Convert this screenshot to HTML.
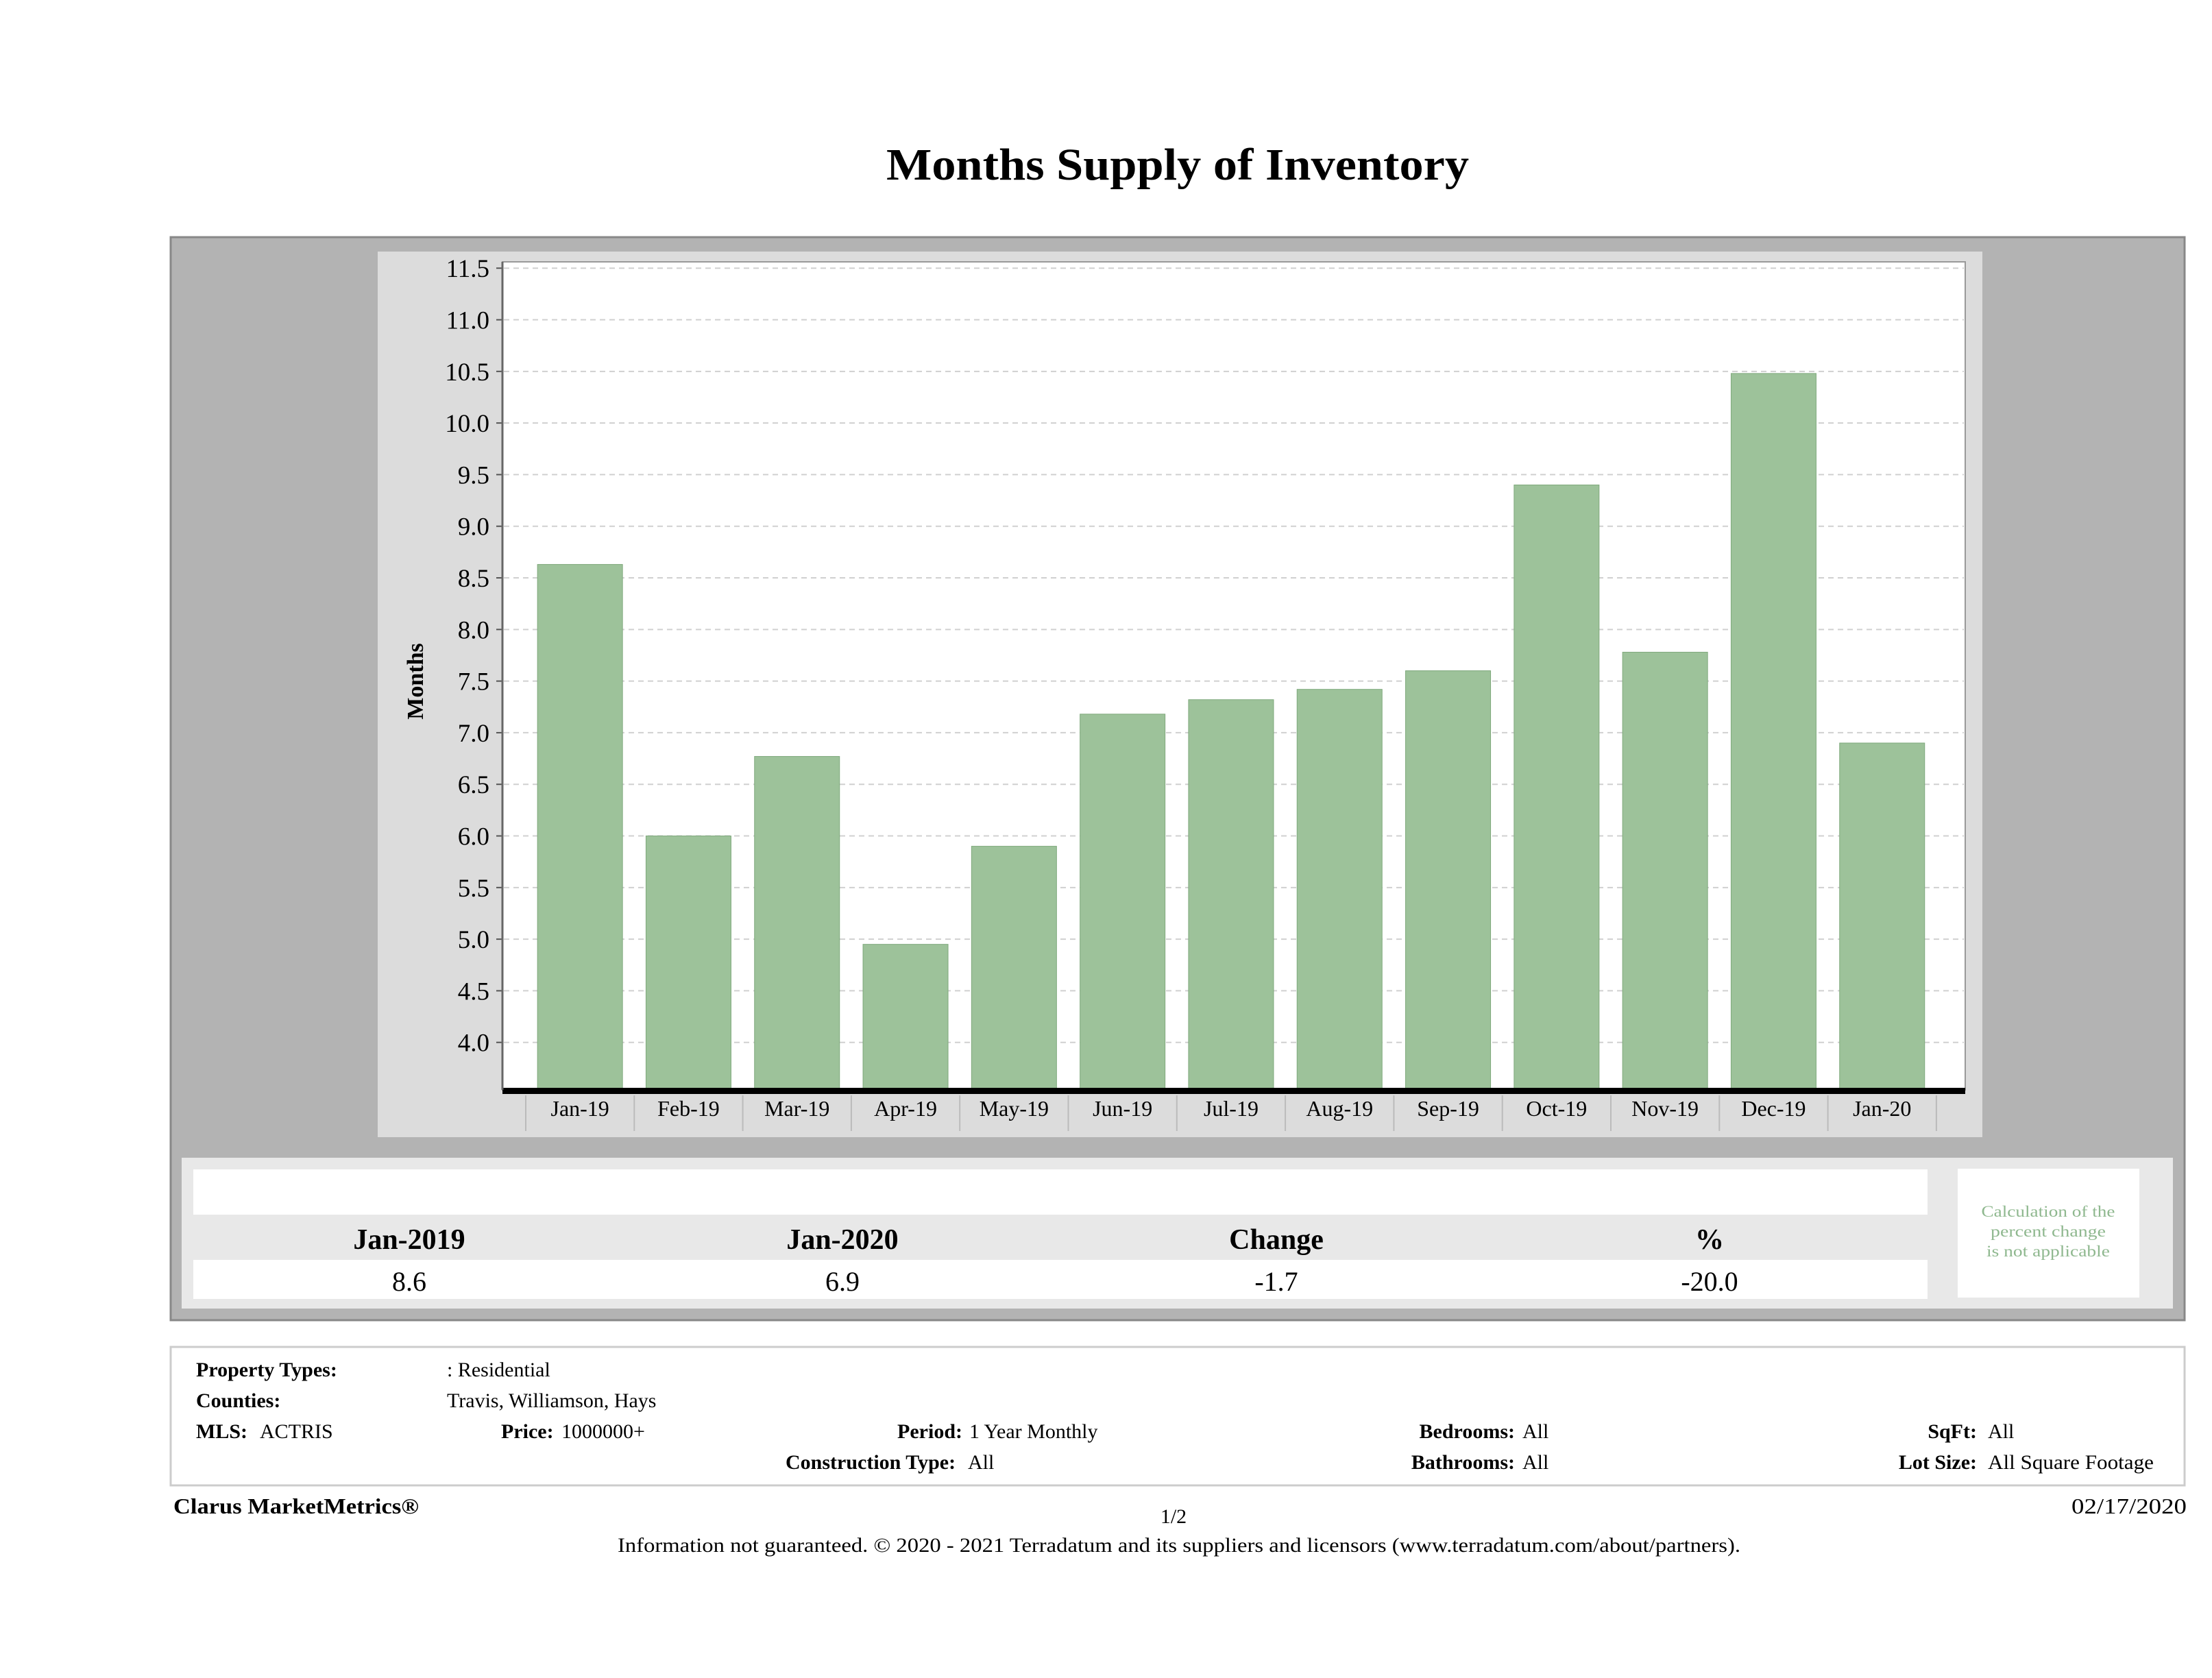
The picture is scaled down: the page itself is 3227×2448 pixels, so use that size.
<!DOCTYPE html>
<html><head><meta charset="utf-8"><style>
body{margin:0;background:#fff}
svg{display:block;font-family:"Liberation Serif",serif}
</style></head><body>
<svg id="page" width="3227" height="2448" viewBox="0 0 3227 2448" xmlns="http://www.w3.org/2000/svg">
<text x="1718" y="262" text-anchor="middle" font-size="66" font-weight="bold" fill="#000" textLength="850" lengthAdjust="spacingAndGlyphs">Months Supply of Inventory</text>
<rect x="249" y="346" width="2938" height="1580" fill="#b3b3b3" stroke="#888" stroke-width="3"/>
<rect x="551" y="367" width="2341" height="1292" fill="#dcdcdc"/>
<rect x="733" y="382" width="2134" height="1208" fill="#fff" stroke="#999" stroke-width="2"/>
<g id="grid"></g><g id="bars"></g><g id="axes"></g>
<text transform="translate(617,994) rotate(-90)" text-anchor="middle" font-size="34" font-weight="bold">Months</text>

<rect x="265" y="1689" width="2905" height="220" fill="#e8e8e8"/>
<rect x="282" y="1706" width="2530" height="66" fill="#fff"/>
<rect x="282" y="1838" width="2530" height="57" fill="#fff"/>
<g font-size="42" font-weight="bold" text-anchor="middle">
<text x="597" y="1822">Jan-2019</text>
<text x="1229" y="1822">Jan-2020</text>
<text x="1862" y="1822">Change</text>
<text x="2494" y="1822">%</text>
</g>
<g font-size="40" text-anchor="middle">
<text x="597" y="1883">8.6</text>
<text x="1229" y="1883">6.9</text>
<text x="1862" y="1883">-1.7</text>
<text x="2494" y="1883">-20.0</text>
</g>
<rect x="2856" y="1705" width="265" height="188" fill="#fff"/>
<g font-size="23" fill="#8fb88f" text-anchor="middle">
<text x="2988" y="1775" textLength="195" lengthAdjust="spacingAndGlyphs">Calculation of the</text>
<text x="2988" y="1804" textLength="168" lengthAdjust="spacingAndGlyphs">percent change</text>
<text x="2988" y="1833" textLength="180" lengthAdjust="spacingAndGlyphs">is not applicable</text>
</g>

<rect x="249" y="1965" width="2938" height="202" fill="#fff" stroke="#ccc" stroke-width="3"/>
<g font-size="30">
<text x="286" y="2008" font-weight="bold">Property Types:</text>
<text x="652" y="2008">: Residential</text>
<text x="286" y="2053" font-weight="bold">Counties:</text>
<text x="652" y="2053">Travis, Williamson, Hays</text>
<text x="286" y="2098" font-weight="bold">MLS:</text>
<text x="379" y="2098">ACTRIS</text>
<text x="731" y="2098" font-weight="bold">Price:</text>
<text x="819" y="2098">1000000+</text>
<text x="1404" y="2098" font-weight="bold" text-anchor="end">Period:</text>
<text x="1414" y="2098">1 Year Monthly</text>
<text x="2210" y="2098" font-weight="bold" text-anchor="end">Bedrooms:</text>
<text x="2221" y="2098">All</text>
<text x="2884" y="2098" font-weight="bold" text-anchor="end">SqFt:</text>
<text x="2900" y="2098">All</text>
<text x="1146" y="2143" font-weight="bold">Construction Type:</text>
<text x="1412" y="2143">All</text>
<text x="2210" y="2143" font-weight="bold" text-anchor="end">Bathrooms:</text>
<text x="2221" y="2143">All</text>
<text x="2884" y="2143" font-weight="bold" text-anchor="end">Lot Size:</text>
<text x="2900" y="2143" textLength="242" lengthAdjust="spacingAndGlyphs">All Square Footage</text>
</g>
<text x="253" y="2208" font-size="32" font-weight="bold" textLength="358" lengthAdjust="spacingAndGlyphs">Clarus MarketMetrics®</text>
<text x="1712" y="2222" font-size="30" text-anchor="middle">1/2</text>
<text x="3190" y="2208" font-size="32" text-anchor="end" textLength="168" lengthAdjust="spacingAndGlyphs">02/17/2020</text>
<text x="1720" y="2264" font-size="30" text-anchor="middle" textLength="1638" lengthAdjust="spacingAndGlyphs">Information not guaranteed. © 2020 - 2021 Terradatum and its suppliers and licensors (www.terradatum.com/about/partners).</text>
</svg>
<script>
const categories = ["Jan-19","Feb-19","Mar-19","Apr-19","May-19","Jun-19","Jul-19","Aug-19","Sep-19","Oct-19","Nov-19","Dec-19","Jan-20"];
const seriesValues = [8.63,6.0,6.77,4.95,5.9,7.18,7.32,7.42,7.6,9.4,7.78,10.48,6.9];
const tickLabels = ["4.0","4.5","5.0","5.5","6.0","6.5","7.0","7.5","8.0","8.5","9.0","9.5","10.0","10.5","11.0","11.5"];

const NS = "http://www.w3.org/2000/svg";
const yMin = 3.54, yPx0 = 1590, pxPerUnit = 150.6;
const yScale = v => yPx0 - (v - yMin) * pxPerUnit;
const bandStart = 767, band = 158.3, barW = 124;
const xCenter = i => bandStart + band * (i + 0.5);
function mk(tag, attrs, parent){const e=document.createElementNS(NS,tag);for(const k in attrs)e.setAttribute(k,attrs[k]);parent.appendChild(e);return e;}
const grid=document.getElementById('grid'), bars=document.getElementById('bars'), axes=document.getElementById('axes');
tickLabels.forEach(t=>{
  const y=yScale(parseFloat(t));
  const g=mk('line',{x1:735,x2:2865,y1:y,y2:y,stroke:'#d0d0d0','stroke-width':2,'stroke-dasharray':'8 6'},grid);
  
  
  const tk=mk('line',{x1:724,x2:733,y1:y,y2:y,stroke:'#555','stroke-width':2},axes);
  
  
  const tl=mk('text',{x:714,y:y+13,'text-anchor':'end','font-size':37},axes);
  tl.textContent=t;
  
  
});
seriesValues.forEach((v,i)=>{
  const y=yScale(v);
  const r=mk('rect',{x:xCenter(i)-barW/2,y:y,width:barW,height:yPx0-y,fill:'#9dc29a',stroke:'#7fa97c','stroke-width':1},bars);
  
  
});
const base=mk('rect',{x:733,y:1587,width:2134,height:9,fill:'#000'},axes);


for(let i=0;i<=categories.length;i++){
  const x=bandStart+band*i;
  const s=mk('line',{x1:x,x2:x,y1:1598,y2:1650,stroke:'#bbb','stroke-width':2},axes);
  
  
}
categories.forEach((c,i)=>{
  const t=mk('text',{x:xCenter(i),y:1628,'text-anchor':'middle','font-size':32},axes);
  t.textContent=c;
  
  
});
const yl=mk('line',{x1:733,x2:733,y1:382,y2:1590,stroke:'#666','stroke-width':3},axes);


</script>
</body></html>
